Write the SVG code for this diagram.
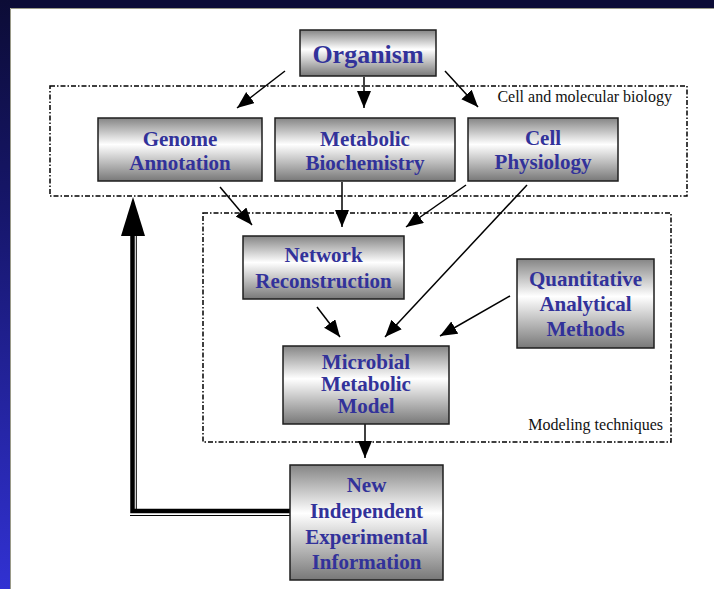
<svg xmlns="http://www.w3.org/2000/svg" width="714" height="589" viewBox="0 0 714 589">
  <defs>
    <linearGradient id="boxFill" x1="0" y1="0" x2="0" y2="1">
      <stop offset="0" stop-color="#858585"/>
      <stop offset="0.42" stop-color="#ffffff"/>
      <stop offset="1" stop-color="#787878"/>
    </linearGradient>
    <linearGradient id="sideBand" x1="0" y1="0" x2="0" y2="1">
      <stop offset="0" stop-color="#0c0c36"/>
      <stop offset="0.35" stop-color="#16166a"/>
      <stop offset="1" stop-color="#3131d2"/>
    </linearGradient>
    <marker id="arrow" markerUnits="userSpaceOnUse" markerWidth="18" markerHeight="16" refX="17" refY="7" orient="auto">
      <path d="M0,0 L17,7 L0,14 z" fill="#000"/>
    </marker>
    <style>
      .box { fill: url(#boxFill); stroke: #1e1e1e; stroke-width: 1.5; }
      .label { font-family: 'Liberation Serif', 'Times New Roman', serif; font-weight: 700; font-size: 21px; fill: #32329a; text-anchor: middle; }
      .big { font-size: 26px; }
      .zone { fill: none; stroke: #000; stroke-width: 1.5; stroke-dasharray: 5 2 1.5 2; }
      .zoneLabel { font-family: 'Liberation Serif', 'Times New Roman', serif; font-size: 16px; fill: #111; text-anchor: end; }
      .link { stroke: #000; stroke-width: 1.5; fill: none; marker-end: url(#arrow); }
    </style>
  </defs>

  <!-- slide frame -->
  <rect x="0" y="0" width="714" height="589" fill="#0c0c36"/>
  <rect x="0" y="0" width="10" height="589" fill="url(#sideBand)"/>
  <rect x="10" y="8" width="704" height="581" fill="#ffffff"/>
  <path d="M10.5,589 V8.5 H714" fill="none" stroke="#9a9a88" stroke-width="1"/>

  <!-- grouping zones -->
  <g id="zone-cell-biology">
    <rect class="zone" x="50" y="86" width="637" height="110"/>
    <text class="zoneLabel" x="672" y="102">Cell and molecular biology</text>
  </g>
  <g id="zone-modeling">
    <rect class="zone" x="203" y="213" width="468" height="229"/>
    <text class="zoneLabel" x="663" y="430">Modeling techniques</text>
  </g>

  <!-- connectors -->
  <g id="connectors">
    <line class="link" x1="285" y1="71" x2="237" y2="108"/>
    <line class="link" x1="364" y1="77" x2="364" y2="108"/>
    <line class="link" x1="445" y1="71" x2="478" y2="107"/>
    <line class="link" x1="220" y1="187" x2="252" y2="225"/>
    <line class="link" x1="342" y1="182" x2="342" y2="227"/>
    <line class="link" x1="466" y1="185" x2="406" y2="227"/>
    <line class="link" x1="527" y1="185" x2="385" y2="337"/>
    <line class="link" x1="317" y1="307" x2="340" y2="337"/>
    <line class="link" x1="510" y1="296" x2="440" y2="336"/>
    <line class="link" x1="365" y1="424" x2="365" y2="458"/>
    <!-- feedback loop: heavy double rule back up to the biology zone -->
    <path d="M290,511 H132.5 V234" fill="none" stroke="#000" stroke-width="4.5"/>
    <path d="M136.3,234 V509" fill="none" stroke="#000" stroke-width="1"/>
    <path d="M130,515.5 H290" fill="none" stroke="#000" stroke-width="1"/>
    <path d="M133,197 L145,236 L121,236 z" fill="#000"/>
  </g>

  <!-- nodes -->
  <g id="organism">
    <rect class="box" x="300" y="30" width="136" height="46"/>
    <text class="label big" x="368" y="63">Organism</text>
  </g>
  <g id="genome-annotation">
    <rect class="box" x="98" y="118" width="164" height="63"/>
    <text class="label" x="180" y="146">Genome</text>
    <text class="label" x="180" y="170">Annotation</text>
  </g>
  <g id="metabolic-biochemistry">
    <rect class="box" x="275" y="118" width="180" height="63"/>
    <text class="label" x="365" y="146">Metabolic</text>
    <text class="label" x="365" y="170">Biochemistry</text>
  </g>
  <g id="cell-physiology">
    <rect class="box" x="468" y="118" width="150" height="63"/>
    <text class="label" x="543" y="145">Cell</text>
    <text class="label" x="543" y="169">Physiology</text>
  </g>
  <g id="network-reconstruction">
    <rect class="box" x="243" y="236" width="161" height="63"/>
    <text class="label" x="323.5" y="262">Network</text>
    <text class="label" x="323.5" y="288">Reconstruction</text>
  </g>
  <g id="quantitative-methods">
    <rect class="box" x="517" y="259" width="137" height="89"/>
    <text class="label" x="585.5" y="286">Quantitative</text>
    <text class="label" x="585.5" y="311">Analytical</text>
    <text class="label" x="585.5" y="336">Methods</text>
  </g>
  <g id="microbial-model">
    <rect class="box" x="283" y="346" width="166" height="78"/>
    <text class="label" x="366" y="369">Microbial</text>
    <text class="label" x="366" y="391">Metabolic</text>
    <text class="label" x="366" y="413">Model</text>
  </g>
  <g id="experimental-information">
    <rect class="box" x="290" y="465" width="153" height="115"/>
    <text class="label" x="366.5" y="492">New</text>
    <text class="label" x="366.5" y="518">Independent</text>
    <text class="label" x="366.5" y="544">Experimental</text>
    <text class="label" x="366.5" y="569">Information</text>
  </g>
</svg>
